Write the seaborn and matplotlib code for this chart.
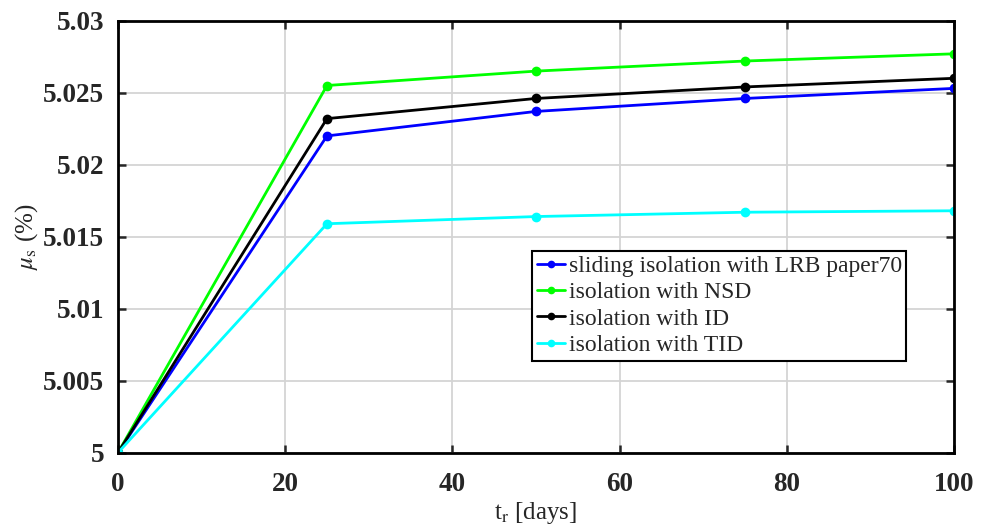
import matplotlib
matplotlib.use("Agg")
import matplotlib.pyplot as plt
import seaborn as sns
import pandas as pd

t_days = [0, 25, 50, 75, 100]
lrb = [5.0, 5.0220, 5.0237, 5.0246, 5.0253]
nsd = [5.0, 5.0255, 5.0265, 5.0272, 5.0277]
idd = [5.0, 5.0232, 5.0246, 5.0254, 5.0260]
tid = [5.0, 5.0159, 5.0164, 5.0167, 5.0168]
labels = ["sliding isolation with LRB paper70", "isolation with NSD",
          "isolation with ID", "isolation with TID"]
colors = ["#0000ff", "#00ff00", "#000000", "#00ffff"]
xticks = [0, 20, 40, 60, 80, 100]
yticks = [5, 5.005, 5.01, 5.015, 5.02, 5.025, 5.03]
yticklabels = ["5", "5.005", "5.01", "5.015", "5.02", "5.025", "5.03"]

rows = []
for lab, vals in zip(labels, [lrb, nsd, idd, tid]):
    for t, v in zip(t_days, vals):
        rows.append({"t": t, "mu": v, "series": lab})
df = pd.DataFrame(rows)

sns.set_style("white")
plt.rcParams["font.family"] = ["Liberation Serif", "DejaVu Serif"]
plt.rcParams["mathtext.fontset"] = "stix"

fig = plt.figure(figsize=(9.81, 5.25), dpi=100)
ax = fig.add_axes([118/981, 1 - 452.7/525, (954-118)/981, (452.7-20.7)/525])

sns.lineplot(data=df, x="t", y="mu", hue="series", hue_order=labels,
             palette=colors, marker="o", markersize=5.5,
             markeredgewidth=1.5, linewidth=2, ax=ax, legend=True)
for line in ax.lines:
    c = line.get_color()
    line.set_markeredgecolor(c)
    line.set_markerfacecolor(c)
    line.set_alpha(1)

ax.set_xlim(0, 100)
ax.set_ylim(5, 5.03)
ax.set_xticks(xticks)
ax.set_xticklabels([str(x) for x in xticks], fontsize=19.5, fontweight="bold")
ax.set_yticks(yticks)
ax.set_yticklabels(yticklabels, fontsize=19.5, fontweight="bold")
ax.grid(True, color="#d4d4d4", linewidth=1.3)
ax.tick_params(axis="both", direction="in", length=6, width=1.8, top=True, right=True,
               bottom=True, left=True)
ax.tick_params(axis="x", pad=14)
ax.tick_params(axis="y", pad=10)
for s in ax.spines.values():
    s.set_linewidth(2)
    s.set_color("black")

ax.set_xlabel(r"t$_{\mathrm{r}}$ [days]", fontsize=18, labelpad=2)
ax.set_ylabel(r"$\mu_{\mathrm{s}}$ (%)", fontsize=18, labelpad=2)

leg = ax.legend(loc="upper left", bbox_to_anchor=((532-118)/836, 1 - (251-20.7)/432),
                fontsize=17, frameon=True, fancybox=False, handlelength=1.2,
                handletextpad=0.15, borderpad=0.2, labelspacing=0.2,
                borderaxespad=0)
leg.get_frame().set_edgecolor("black")
leg.get_frame().set_linewidth(1.5)
leg.get_frame().set_alpha(1)
for h in leg.get_lines():
    h.set_markersize(4)

fig.savefig("out.png", dpi=100)
